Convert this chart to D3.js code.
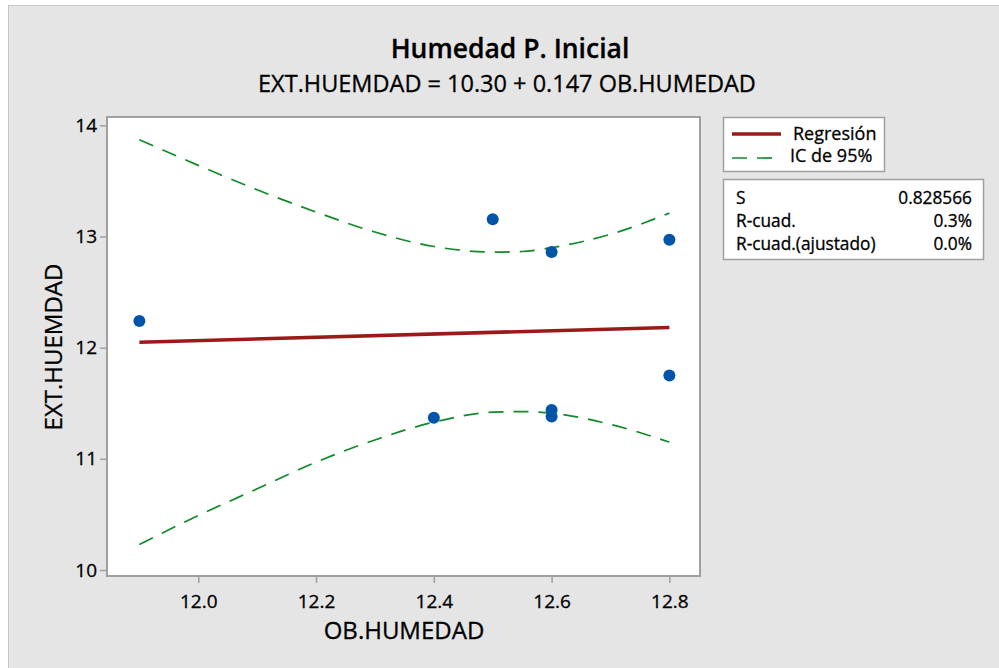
<!DOCTYPE html>
<html>
<head>
<meta charset="utf-8">
<script src="https://cdn.jsdelivr.net/npm/d3@7"></script>
<style>
  html, body { margin: 0; padding: 0; background: #ffffff; }
  svg { display: block; }
  text { font-family: "Open Sans", "Noto Sans", sans-serif; fill: #000; stroke: #000; stroke-width: 0.3px; }
</style>
</head>
<body>
<svg id="chart" width="999" height="668"></svg>
<script>
// ---- data ----
const obsX = [11.9, 12.4, 12.5, 12.6, 12.6, 12.6, 12.8, 12.8];
const obsY = [12.24, 11.37, 13.155, 12.86, 11.44, 11.38, 12.97, 11.75];

const fitX = [11.9, 12.8];
const fitY = [12.049, 12.182];

const ciX     = [11.9, 12.0, 12.1, 12.2, 12.3, 12.4, 12.5, 12.55, 12.6, 12.7, 12.8];
const ciUpper = [13.87, 13.64, 13.42, 13.22, 13.04, 12.91, 12.86, 12.865, 12.90, 13.02, 13.21];
const ciLower = [10.23, 10.49, 10.73, 10.97, 11.17, 11.33, 11.42, 11.425, 11.41, 11.31, 11.15];

const xTicks = [12.0, 12.2, 12.4, 12.6, 12.8];
const yTicks = [10, 11, 12, 13, 14];

const titleText = "Humedad P. Inicial";
const subtitleText = "EXT.HUEMDAD = 10.30 + 0.147 OB.HUMEDAD";
const xLabel = "OB.HUMEDAD";
const yLabel = "EXT.HUEMDAD";
const legendItems = ["Regresión", "IC de 95%"];
const statNames = ["S", "R-cuad.", "R-cuad.(ajustado)"];
const statValues = ["0.828566", "0.3%", "0.0%"];

// ---- layout ----
const svg = d3.select("#chart");
const plot = { left: 107, top: 117, right: 700, bottom: 576 };

const colors = {
  bg: "#e5e5e5", frame: "#a0a0a0", fit: "#9a1a1a", ci: "#118a2a", pt: "#0055a8"
};

// outer background panel
svg.append("rect").attr("x", 0).attr("y", 0).attr("width", 999).attr("height", 668).attr("fill", "#ffffff");
svg.append("rect").attr("x", 8.5).attr("y", 5.5).attr("width", 999).attr("height", 668)
  .attr("fill", colors.bg).attr("stroke", "#c6c6c6");

const x = d3.scaleLinear().domain([11.845, 12.852]).range([plot.left, plot.right]);
const y = d3.scaleLinear().domain([9.946, 14.075]).range([plot.bottom, plot.top]);

// plot area
svg.append("rect").attr("x", plot.left).attr("y", plot.top)
  .attr("width", plot.right - plot.left).attr("height", plot.bottom - plot.top)
  .attr("fill", "#ffffff").attr("stroke", colors.frame).attr("stroke-width", 2);

// axes
const xAxis = svg.append("g").attr("transform", `translate(0,${plot.bottom + 1})`)
  .call(d3.axisBottom(x).tickValues(xTicks).tickFormat(d3.format(".1f")).tickSize(6).tickPadding(12));
const yAxis = svg.append("g").attr("transform", `translate(${plot.left - 1},0)`)
  .call(d3.axisLeft(y).tickValues(yTicks).tickFormat(d3.format("d")).tickSize(6).tickPadding(3));
[xAxis, yAxis].forEach(g => {
  g.select(".domain").remove();
  g.selectAll(".tick line").attr("stroke", colors.frame).attr("stroke-width", 1.5);
  g.selectAll(".tick text").style("font-size", "19px").attr("fill", "#000");
});

// clip
svg.append("clipPath").attr("id", "clip").append("rect")
  .attr("x", plot.left).attr("y", plot.top).attr("width", plot.right - plot.left).attr("height", plot.bottom - plot.top);
const g = svg.append("g").attr("clip-path", "url(#clip)");

// CI curves
const ciLine = arr => d3.line().x((d, i) => x(ciX[i])).y(d => y(d)).curve(d3.curveMonotoneX)(arr);
[ciUpper, ciLower].forEach(arr => {
  g.append("path").attr("d", ciLine(arr)).attr("fill", "none")
    .attr("stroke", colors.ci).attr("stroke-width", 1.7).attr("stroke-dasharray", "15,10");
});

// fit line
g.append("path")
  .attr("d", d3.line().x((d, i) => x(fitX[i])).y(d => y(d))(fitY))
  .attr("fill", "none").attr("stroke", colors.fit).attr("stroke-width", 3.6);

// points
g.selectAll("circle.pt").data(obsX).enter().append("circle")
  .attr("cx", d => x(d)).attr("cy", (d, i) => y(obsY[i])).attr("r", 6).attr("fill", colors.pt);

// titles
svg.append("text").attr("x", 510).attr("y", 58).attr("text-anchor", "middle")
  .style("font-size", "26.5px").style("font-weight", 600).text(titleText);
svg.append("text").attr("x", 507).attr("y", 92).attr("text-anchor", "middle")
  .style("font-size", "23.5px").text(subtitleText);

// axis labels
svg.append("text").attr("x", 404).attr("y", 639).attr("text-anchor", "middle")
  .style("font-size", "24px").text(xLabel);
svg.append("text").attr("transform", `translate(62,347) rotate(-90)`).attr("text-anchor", "middle")
  .style("font-size", "24px").text(yLabel);

// legend box
svg.append("rect").attr("x", 723.5).attr("y", 117.5).attr("width", 161).attr("height", 54)
  .attr("fill", "#ffffff").attr("stroke", colors.frame).attr("stroke-width", 1.5);
svg.append("line").attr("x1", 732).attr("x2", 781).attr("y1", 134).attr("y2", 134)
  .attr("stroke", colors.fit).attr("stroke-width", 3.6);
svg.append("line").attr("x1", 732).attr("x2", 781).attr("y1", 158).attr("y2", 158)
  .attr("stroke", colors.ci).attr("stroke-width", 1.7).attr("stroke-dasharray", "15,10");
svg.append("text").attr("x", 793).attr("y", 139.5).style("font-size", "18px").text(legendItems[0]);
svg.append("text").attr("x", 790).attr("y", 162).style("font-size", "18px").text(legendItems[1]);

// stats box
svg.append("rect").attr("x", 723.5).attr("y", 179.5).attr("width", 260).attr("height", 80)
  .attr("fill", "#ffffff").attr("stroke", colors.frame).attr("stroke-width", 1.5);
statNames.forEach((n, i) => {
  svg.append("text").attr("x", 736).attr("y", 203.5 + i * 23.3).style("font-size", "17.3px").text(n);
  svg.append("text").attr("x", 972).attr("y", 203.5 + i * 23.3).attr("text-anchor", "end")
    .style("font-size", "17.3px").text(statValues[i]);
});
</script>
</body>
</html>
